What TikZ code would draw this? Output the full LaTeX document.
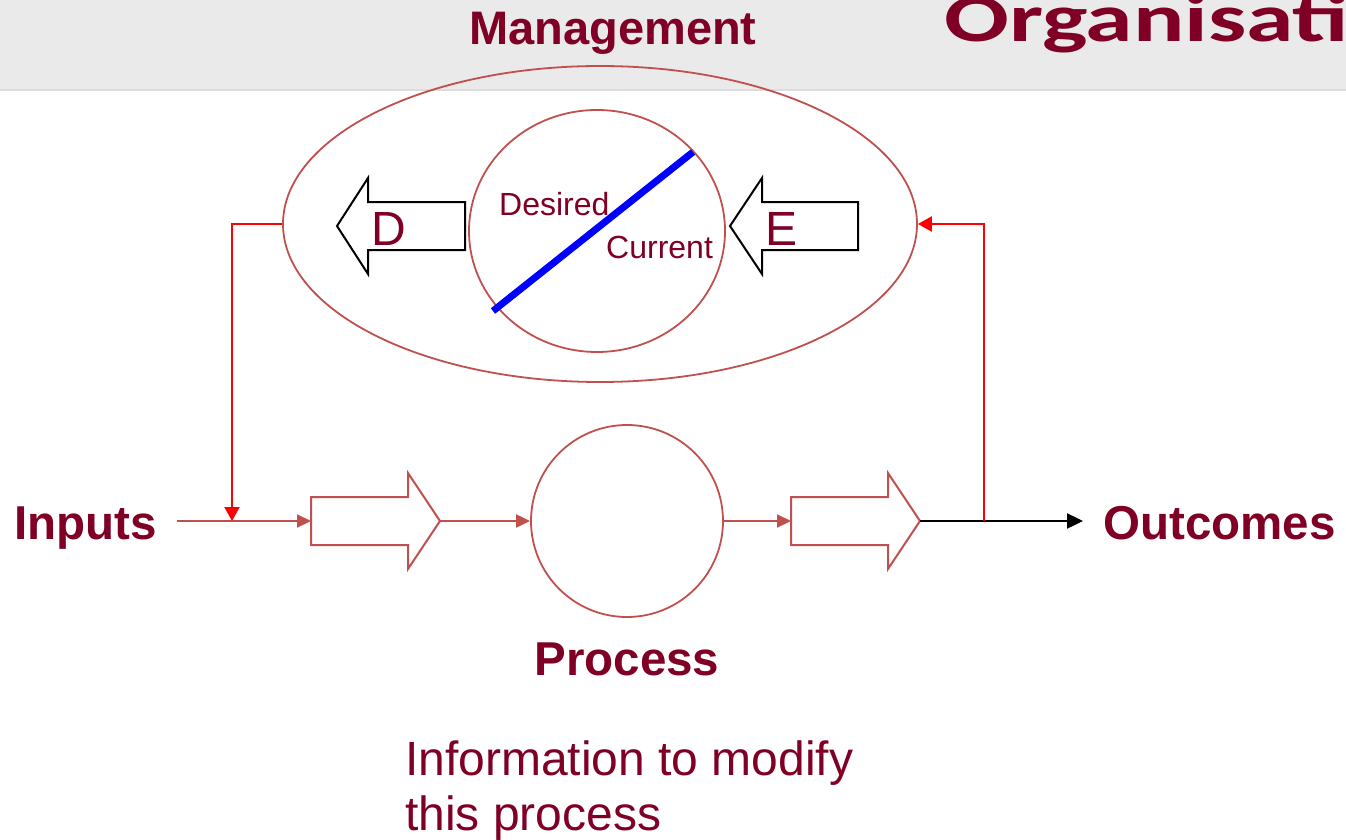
\documentclass[tikz,border=0pt]{standalone}
\usepackage{fontspec}
\setmainfont{Liberation Sans}
\newfontfamily\titlefont{Carlito}
\usetikzlibrary{shapes.geometric,arrows.meta}
\definecolor{maroon}{HTML}{800025}
\definecolor{brick}{HTML}{C0504D}
\definecolor{hdr}{HTML}{EAEAEA}
\definecolor{hdrline}{HTML}{DCDCDC}
\tikzset{
  lbl/.style={text=maroon, inner sep=0pt},
  bigbold/.style={lbl, font=\fontsize{47.5}{50}\selectfont\bfseries},
  flowblock/.style={draw=brick, line width=2pt, line join=miter},
  backblock/.style={draw=black, line width=2pt, line join=miter},
  ring/.style={draw=brick, line width=1.8pt, inner sep=0pt},
  flowline/.style={draw=brick, line width=2pt, -{Triangle[length=14pt,width=13pt]}},
  fbline/.style={draw=red, line width=2.4pt, -{Triangle[length=14pt,width=15pt]}},
}
\begin{document}
\begin{tikzpicture}[x=1pt,y=-1pt]
\useasboundingbox (0,0) rectangle (1346,840);
% header
\fill[hdr] (0,0) rectangle (1346,89);
\draw[hdrline, line width=2pt] (0,90) -- (1346,90);
\node[lbl, font=\fontsize{47}{50}\selectfont\bfseries, anchor=base] (mgmtlbl) at (613,45) {Management};
\node[lbl, anchor=base west, font=\titlefont\fontsize{68}{72}\selectfont\bfseries] (title) at (944,42) {\scalebox{1.41}[1]{Organisati}};
% management ellipse
\node[ellipse, ring, minimum width=634, minimum height=316] (mgmt) at (600,224) {};
\node[ellipse, ring, minimum width=256, minimum height=242] (state) at (597,231) {};
\coordinate (bl1) at (493,311);
\coordinate (bl2) at (693,152);
\draw[blue, line width=7pt] (bl1) -- (bl2);
\node[lbl, anchor=base west, font=\fontsize{32}{34}\selectfont] (desired) at (499,215) {Desired};
\node[lbl, anchor=base west, font=\fontsize{32}{34}\selectfont] (current) at (606,258) {Current};
% D and E block arrows (pointing left)
\draw[backblock] (465,202) -- (368,202) -- (368,178) -- (337,226) -- (368,274) -- (368,250) -- (465,250) -- cycle;
\draw[backblock] (858,202) -- (762,202) -- (762,178) -- (730,226) -- (762,274) -- (762,250) -- (858,250) -- cycle;
\node[lbl, anchor=base, font=\fontsize{48}{50}\selectfont] (dlbl) at (389,245) {D};
\node[lbl, anchor=base, font=\fontsize{48}{50}\selectfont] (elbl) at (781,245) {E};
% process row
\node[bigbold, anchor=base west] (inputs) at (14,539) {Inputs};
\node[bigbold, anchor=base west] (outcomes) at (1103,539) {Outcomes};
\coordinate (instart) at (177,521);
\coordinate (a1tail) at (311,521);
\coordinate (a1tip) at (440,521);
\coordinate (a2tail) at (791,521);
\coordinate (a2tip) at (920,521);
\draw[flowblock] (311,497) -- (408,497) -- (408,473) -- (a1tip) -- (408,569) -- (408,545) -- (311,545) -- cycle;
\draw[flowblock] (791,497) -- (888,497) -- (888,473) -- (a2tip) -- (888,569) -- (888,545) -- (791,545) -- cycle;
\node[circle, ring, minimum size=192] (proc) at (627,521) {};
\coordinate (outend) at (1083,521);
\coordinate (joinL) at (232,521);
\coordinate (joinR) at (984,521);
\draw[flowline] (instart) -- (a1tail);
\draw[flowline] (a1tip) -- (proc.west);
\draw[flowline] (proc.east) -- (a2tail);
\draw[line width=2.4pt, -{Triangle[length=16pt,width=15pt]}] (a2tip) -- (outend);
\draw[fbline] (mgmt.west) -| (joinL);
\draw[fbline] (joinR) |- (mgmt.east);
\node[bigbold, anchor=base] (proclbl) at (627,675) {Process};
\node[lbl, anchor=base west, align=left, font=\fontsize{48}{55}\selectfont] (info) at (405,830) {Information to modify\\this process};
\end{tikzpicture}
\end{document}
